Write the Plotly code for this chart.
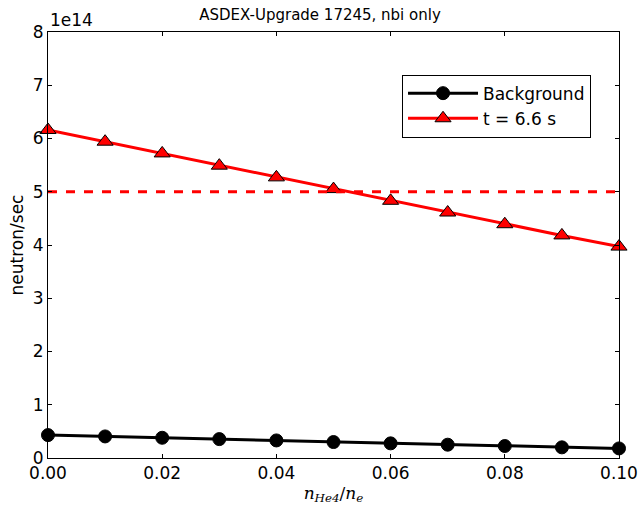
import plotly.graph_objects as go

n_he4_ratio = [0.00, 0.01, 0.02, 0.03, 0.04, 0.05, 0.06, 0.07, 0.08, 0.09, 0.10]
background = [0.43e14, 0.405e14, 0.38e14, 0.355e14, 0.33e14, 0.30e14, 0.275e14, 0.25e14, 0.225e14, 0.20e14, 0.18e14]
t_6_6 = [6.16e14, 5.94e14, 5.72e14, 5.49e14, 5.27e14, 5.05e14, 4.83e14, 4.61e14, 4.39e14, 4.18e14, 3.97e14]
threshold = 5.0e14
y_ticks = [0, 1, 2, 3, 4, 5, 6, 7, 8]
x_ticks = [0.00, 0.02, 0.04, 0.06, 0.08, 0.10]

font = "DejaVu Sans, sans-serif"

fig = go.Figure()
fig.add_trace(go.Scatter(
    x=n_he4_ratio, y=background, name="Background", mode="lines+markers",
    line=dict(color="black", width=3),
    marker=dict(symbol="circle", size=13, color="black", line=dict(color="black", width=1)),
    cliponaxis=False,
))
fig.add_trace(go.Scatter(
    x=n_he4_ratio, y=t_6_6, name="t = 6.6 s", mode="lines+markers",
    line=dict(color="red", width=3),
    marker=dict(symbol="triangle-up", size=14, color="red", line=dict(color="black", width=1)),
    cliponaxis=False,
))
fig.add_trace(go.Scatter(
    x=[n_he4_ratio[0], n_he4_ratio[-1]], y=[threshold, threshold], mode="lines",
    line=dict(color="red", width=3, dash="dash"), showlegend=False, hoverinfo="skip",
))

fig.update_layout(
    width=640, height=511,
    margin=dict(l=48, r=21, t=32, b=53),
    paper_bgcolor="white", plot_bgcolor="white",
    font=dict(family=font, color="black", size=17),
    title=dict(text="ASDEX-Upgrade 17245, nbi only", x=0.5, xanchor="center",
               y=0.982, yanchor="top", font=dict(size=15)),
    legend=dict(x=0.62, y=0.9, xanchor="left", yanchor="top",
                bordercolor="black", borderwidth=1, bgcolor="white",
                font=dict(size=17), tracegroupgap=0, itemwidth=70),
    showlegend=True,
)
fig.update_xaxes(
    range=[0, 0.1], tickvals=x_ticks, ticktext=["%.2f" % v for v in x_ticks],
    showgrid=False, zeroline=False, showline=True, linecolor="black", linewidth=1,
    mirror="ticks", ticks="inside", ticklen=4, tickcolor="black", automargin=False,
    title=dict(text="<i>n</i><sub><i>He4</i></sub>/<i>n</i><sub><i>e</i></sub>",
               font=dict(family="DejaVu Serif, serif", size=17), standoff=4),
)
fig.update_yaxes(
    range=[0, 8e14], tickvals=[v * 1e14 for v in y_ticks], ticktext=[str(v) for v in y_ticks],
    showgrid=False, zeroline=False, showline=True, linecolor="black", linewidth=1,
    mirror="ticks", ticks="inside", ticklen=4, tickcolor="black", automargin=False,
    title=dict(text="neutron/sec", font=dict(size=17), standoff=4),
)
fig.add_annotation(text="1e14", xref="paper", yref="paper", x=0, y=1,
                   xanchor="left", yanchor="bottom", showarrow=False,
                   font=dict(size=17), xshift=0, yshift=0)

fig.write_html("out.html", config={"displayModeBar": False},
               post_script="document.body.style.margin='0';document.body.style.padding='0';")
